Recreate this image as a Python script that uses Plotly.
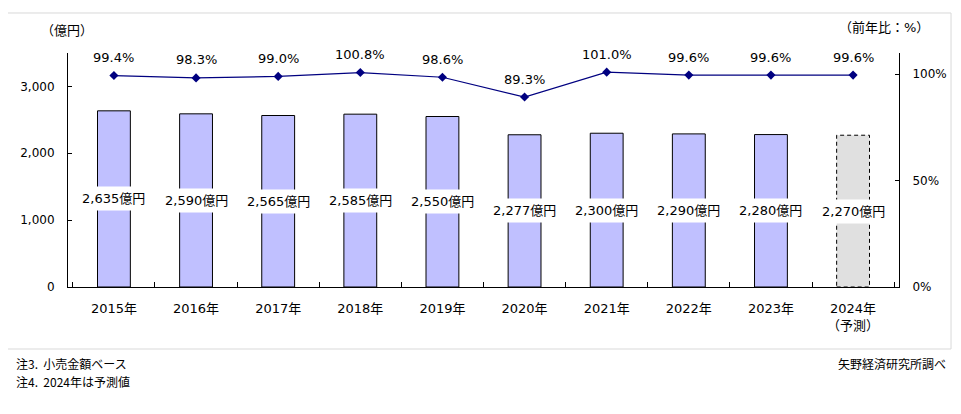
import plotly.graph_objects as go

years = ["2015年", "2016年", "2017年", "2018年", "2019年", "2020年", "2021年", "2022年", "2023年", "2024年"]
tick_labels = ["2015年", "2016年", "2017年", "2018年", "2019年", "2020年", "2021年", "2022年", "2023年", "2024年<br>（予測）"]
market = [2635, 2590, 2565, 2585, 2550, 2277, 2300, 2290, 2280, 2270]
yoy = [99.4, 98.3, 99.0, 100.8, 98.6, 89.3, 101.0, 99.6, 99.6, 99.6]
forecast = [False] * 9 + [True]

FONT = "DejaVu Sans, Noto Sans CJK JP, sans-serif"
JP = "Noto Sans CJK JP, sans-serif"
BAR = "#C0C0FF"
FC = "#E0E0E0"
NAVY = "#000080"

fig = go.Figure()
fig.add_trace(go.Bar(
    x=years, y=market, width=0.4,
    marker=dict(color=[FC if f else BAR for f in forecast],
                line=dict(color=["rgba(0,0,0,0)" if f else "black" for f in forecast], width=1)),
    yaxis="y", showlegend=False, hoverinfo="skip",
))
fig.add_trace(go.Scatter(
    x=years, y=yoy, yaxis="y2", mode="lines+markers",
    line=dict(color=NAVY, width=1.2),
    marker=dict(symbol="diamond", size=7, color=NAVY),
    showlegend=False, hoverinfo="skip",
))

shapes = []
for i, (v, f) in enumerate(zip(market, forecast)):
    if f:
        shapes.append(dict(type="rect", xref="x", yref="y", x0=i - 0.2, x1=i + 0.2, y0=0, y1=v,
                           line=dict(color="black", width=1, dash="4px,3px"), fillcolor="rgba(0,0,0,0)", layer="above"))
shapes.append(dict(type="rect", xref="paper", yref="paper", x0=-0.0734, x1=1.0626, y0=-0.265, y1=1.171,
                   line=dict(color="#D9D9D9", width=1), fillcolor="rgba(0,0,0,0)"))

ann = []
for x, v in zip(years, market):
    ann.append(dict(x=x, y=v / 2, xref="x", yref="y", text=f"{v:,}億円", showarrow=False,
                    bgcolor="white", borderpad=4, font=dict(family=FONT, size=13, color="black")))
for x, p in zip(years, yoy):
    ann.append(dict(x=x, y=p, xref="x", yref="y2", text=f"{p:.1f}%", showarrow=False, yshift=18,
                    font=dict(family=FONT, size=13, color="black")))
ann += [
    dict(xref="paper", yref="paper", x=-0.001, y=1.098, xanchor="center", yanchor="middle",
         text="（億円）", showarrow=False, font=dict(family=FONT, size=13, color="black")),
    dict(xref="paper", yref="paper", x=1.038, y=1.111, xanchor="right", yanchor="middle",
         text="（前年比：%）", showarrow=False, font=dict(family=FONT, size=13, color="black")),
    dict(xref="paper", yref="paper", x=-0.0645, y=-0.325, xanchor="left", yanchor="middle",
         text="注3.\u00a0\u00a0小売金額ベース", showarrow=False, font=dict(family=JP, size=12, color="black")),
    dict(xref="paper", yref="paper", x=-0.0645, y=-0.402, xanchor="left", yanchor="middle",
         text="注4.\u00a0\u00a02024年は予測値", showarrow=False, font=dict(family=JP, size=12, color="black")),
    dict(xref="paper", yref="paper", x=1.059, y=-0.325, xanchor="right", yanchor="middle",
         text="矢野経済研究所調べ", showarrow=False, font=dict(family=JP, size=12, color="black")),
]

# page body has an 8px margin; compensate so the plot lands at the reference position
fig.update_layout(
    width=953, height=406,
    margin=dict(l=60, r=62, t=45, b=127),
    paper_bgcolor="white", plot_bgcolor="white",
    font=dict(family=FONT, size=13, color="black"),
    xaxis=dict(tickmode="array", tickvals=years, ticktext=tick_labels, showline=True, linecolor="black",
               ticks="inside", ticklen=5, tickcolor="black", tickson="boundaries", showgrid=False,
               ticklabelstandoff=9, tickfont=dict(family=FONT, size=13)),
    yaxis=dict(range=[0, 3500], tickvals=[0, 1000, 2000, 3000], tickformat=",", showline=True, linecolor="black",
               ticks="inside", ticklen=4, tickcolor="black", showgrid=False, zeroline=False,
               ticklabelstandoff=10, tickfont=dict(family=FONT, size=12)),
    yaxis2=dict(range=[0, 110], tickvals=[0, 50, 100], ticktext=["0%", "50%", "100%"], overlaying="y", side="right",
                showline=True, linecolor="black", ticks="inside", ticklen=4, tickcolor="black", showgrid=False,
                zeroline=False, ticklabelstandoff=10, tickfont=dict(family=FONT, size=12)),
    shapes=shapes, annotations=ann,
)

fig.write_html("out.html")
